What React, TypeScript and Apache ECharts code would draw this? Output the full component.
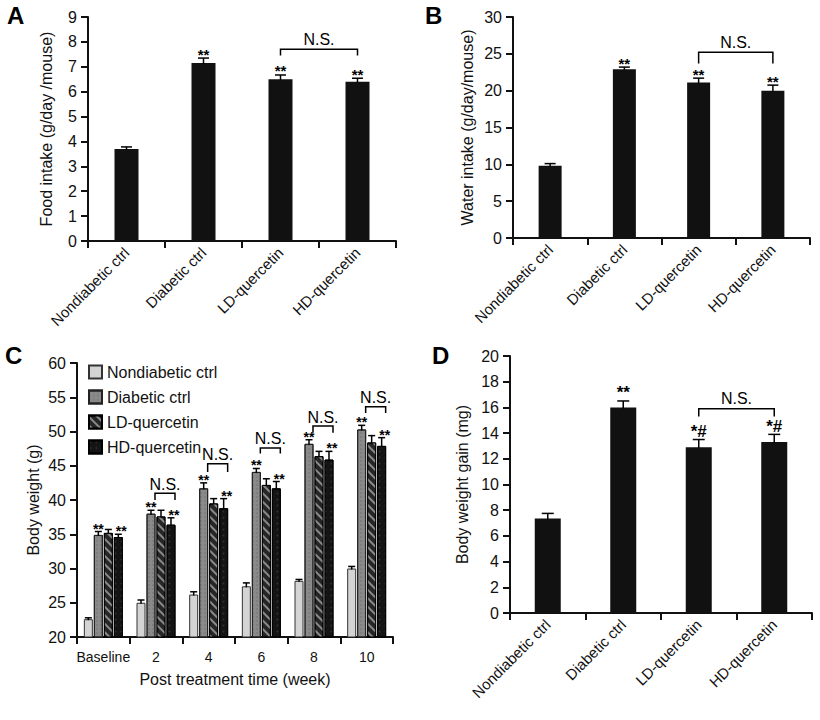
import React, { useEffect, useRef } from 'react';
import * as echarts from 'echarts';

const groups = ['Nondiabetic ctrl', 'Diabetic ctrl', 'LD-quercetin', 'HD-quercetin'];

const foodIntake = [3.7, 7.15, 6.5, 6.4];
const foodErr = [0.08, 0.2, 0.17, 0.14];
const foodMarks = ['', '**', '**', '**'];

const waterIntake = [9.8, 22.9, 21.1, 20.0];
const waterErr = [0.3, 0.3, 0.6, 0.75];
const waterMarks = ['', '**', '**', '**'];

const weekLabels = ['Baseline', '2', '4', '6', '8', '10'];
const bwNondiabetic = [22.6, 25.0, 26.2, 27.4, 28.2, 30.0];
const bwNondiabeticErr = [0.2, 0.4, 0.4, 0.5, 0.2, 0.3];
const bwDiabetic = [34.9, 38.0, 41.7, 44.1, 48.2, 50.3];
const bwDiabeticErr = [0.5, 0.5, 0.8, 0.5, 0.6, 0.6];
const bwLD = [35.2, 37.6, 39.5, 42.2, 46.4, 48.4];
const bwLDErr = [0.5, 0.9, 0.7, 0.9, 0.7, 1.0];
const bwHD = [34.6, 36.4, 38.8, 41.7, 45.9, 47.9];
const bwHDErr = [0.4, 1.0, 1.4, 1.0, 1.2, 1.2];
const bwDiabeticMarks = ['**', '**', '**', '**', '**', '**'];
const bwHDMarks = ['**', '**', '**', '**', '**', '**'];
// N.S. brackets in panel C (week index, bracket top, bracket tick bottom)
const bwBracketWeeks = [1, 2, 3, 4, 5];
const bwBracketTop = [41.0, 45.3, 47.6, 50.8, 53.6];
const bwBracketBottom = [40.0, 44.1, 46.8, 49.8, 52.7];

const gain = [7.35, 16.0, 12.9, 13.3];
const gainErr = [0.4, 0.5, 0.6, 0.6];
const gainMarks = ['', '**', '*#', '*#'];

// N.S. brackets for A, B, D: [top, bottom]
const foodBracket = [7.7, 7.45];
const waterBracket = [25.2, 23.7];
const gainBracket = [15.9, 15.3];

const FONT = '"Liberation Sans", Arial, Helvetica, sans-serif';
const INK = '#111';

const C_BW = 9;
const C_GAP = 0.11;
const cOffset = (k: number) => (k - 1.5) * C_BW * (1 + C_GAP);

type ErrItem = { cat: number; value: number; err: number; offset: number };
type MarkItem = { cat: number; y: number; offset: number; text: string; dy: number; size: number };
type BrItem = { c1: number; c2: number; o1: number; o2: number; top: number; bottom: number };

function errorSeries(ax: number, items: ErrItem[], cap: number) {
  return {
    type: 'custom',
    xAxisIndex: ax,
    yAxisIndex: ax,
    silent: true,
    z: 5,
    clip: false,
    data: items.map((it) => [it.cat, it.value + it.err]),
    renderItem: (params: any, api: any) => {
      const it = items[params.dataIndex];
      const p0 = api.coord([it.cat, it.value]);
      const p1 = api.coord([it.cat, it.value + it.err]);
      const x = p0[0] + it.offset;
      const st = { stroke: '#000', lineWidth: 1.5 };
      return {
        type: 'group',
        children: [
          { type: 'line', shape: { x1: x, y1: p0[1] + 1, x2: x, y2: p1[1] }, style: st },
          { type: 'line', shape: { x1: x - cap / 2, y1: p1[1], x2: x + cap / 2, y2: p1[1] }, style: st },
        ],
      };
    },
  };
}

function markSeries(ax: number, items: MarkItem[]) {
  return {
    type: 'custom',
    xAxisIndex: ax,
    yAxisIndex: ax,
    silent: true,
    z: 6,
    clip: false,
    data: items.map((it) => [it.cat, it.y]),
    renderItem: (params: any, api: any) => {
      const it = items[params.dataIndex];
      const p = api.coord([it.cat, it.y]);
      return {
        type: 'text',
        x: p[0] + it.offset,
        y: p[1] - it.dy,
        style: {
          text: it.text,
          align: 'center',
          verticalAlign: 'middle',
          fontSize: it.size,
          fontFamily: FONT,
          fontWeight: 'bold',
          fill: '#000',
        },
      };
    },
  };
}

function bracketSeries(ax: number, items: BrItem[], gap: number) {
  return {
    type: 'custom',
    xAxisIndex: ax,
    yAxisIndex: ax,
    silent: true,
    z: 6,
    clip: false,
    data: items.map((it) => [it.c1, it.top]),
    renderItem: (params: any, api: any) => {
      const it = items[params.dataIndex];
      const a = api.coord([it.c1, it.top]);
      const b = api.coord([it.c2, it.top]);
      const c = api.coord([it.c1, it.bottom]);
      const x1 = a[0] + it.o1;
      const x2 = b[0] + it.o2;
      return {
        type: 'group',
        children: [
          {
            type: 'polyline',
            shape: { points: [[x1, c[1]], [x1, a[1]], [x2, a[1]], [x2, c[1]]] },
            style: { stroke: '#000', lineWidth: 1.5, fill: 'none' },
          },
          {
            type: 'text',
            x: (x1 + x2) / 2,
            y: a[1] - gap,
            style: { text: 'N.S.', align: 'center', verticalAlign: 'middle', fontSize: 16, fontFamily: FONT, fill: '#000' },
          },
        ],
      };
    },
  };
}

const axisLine = { show: true, onZero: false, lineStyle: { color: INK, width: 2 } };
const axisTick = { show: true, length: 7, lineStyle: { color: INK, width: 2 } };

function yAxis(grid: number, min: number, max: number, interval: number, name: string, nameGap: number) {
  return {
    type: 'value',
    gridIndex: grid,
    min,
    max,
    interval,
    name,
    nameLocation: 'middle',
    nameGap,
    nameTextStyle: { fontSize: 16, color: INK, fontFamily: FONT },
    axisLine,
    axisTick,
    axisLabel: { fontSize: 16, color: INK, margin: 11, fontFamily: FONT },
    splitLine: { show: false },
  };
}

function xCatAxis(grid: number) {
  return {
    type: 'category',
    gridIndex: grid,
    data: groups,
    axisLine,
    axisTick: { ...axisTick, alignWithLabel: false },
    axisLabel: { rotate: 45, fontSize: 15, color: INK, margin: 9, interval: 0, fontFamily: FONT },
  };
}

function simpleMarks(vals: number[], errs: number[], marks: string[], dy: number, size: number): MarkItem[] {
  const out: MarkItem[] = [];
  marks.forEach((m, i) => {
    if (m) out.push({ cat: i, y: vals[i] + errs[i], offset: 0, text: m, dy, size });
  });
  return out;
}

export default function App() {
  const ref = useRef<HTMLDivElement>(null);
  useEffect(() => {
    document.body.style.margin = '0';
    if (!ref.current) return;
    const chart = echarts.init(ref.current, undefined, { renderer: 'svg' });

    const cSeriesDefs = [
      { name: 'Nondiabetic ctrl', vals: bwNondiabetic, errs: bwNondiabeticErr, color: '#d4d4d4', border: '#333', decal: undefined as any },
      { name: 'Diabetic ctrl', vals: bwDiabetic, errs: bwDiabeticErr, color: '#8a8a8a', border: '#222', decal: { symbol: 'circle', symbolSize: 0.6, dashArrayX: [2, 2], dashArrayY: [2, 2], color: 'rgba(0,0,0,0.25)' } },
      { name: 'LD-quercetin', vals: bwLD, errs: bwLDErr, color: '#262626', border: '#000', decal: { symbol: 'rect', symbolSize: 1, dashArrayX: [1, 0], dashArrayY: [2, 4], rotation: Math.PI / 4, color: '#8a8a8a' } },
      { name: 'HD-quercetin', vals: bwHD, errs: bwHDErr, color: '#141414', border: '#000', decal: { symbol: 'circle', symbolSize: 0.6, dashArrayX: [3, 3], dashArrayY: [3, 3], color: 'rgba(255,255,255,0.12)' } },
    ];

    const cErrItems: ErrItem[] = [];
    cSeriesDefs.forEach((s, k) => {
      s.vals.forEach((v, i) => cErrItems.push({ cat: i, value: v, err: s.errs[i], offset: cOffset(k) }));
    });
    const cMarkItems: MarkItem[] = [];
    bwDiabeticMarks.forEach((m, i) => {
      if (m) cMarkItems.push({ cat: i, y: bwDiabetic[i] + bwDiabeticErr[i], offset: cOffset(1), text: m, dy: 3, size: 14 });
    });
    bwHDMarks.forEach((m, i) => {
      if (m) cMarkItems.push({ cat: i, y: bwHD[i] + bwHDErr[i], offset: cOffset(3) + 3, text: m, dy: 3, size: 14 });
    });
    const cBrItems: BrItem[] = bwBracketWeeks.map((w, j) => ({
      c1: w, c2: w, o1: cOffset(2) - 6, o2: cOffset(3) + 4, top: bwBracketTop[j], bottom: bwBracketBottom[j],
    }));

    const option: any = {
      animation: false,
      backgroundColor: '#fff',
      textStyle: { fontFamily: FONT },
      grid: [
        { left: 88, top: 17, width: 308, height: 224, outerBoundsMode: 'none', containLabel: false },
        { left: 513, top: 17, width: 297, height: 221, outerBoundsMode: 'none', containLabel: false },
        { left: 77, top: 363, width: 316, height: 274, outerBoundsMode: 'none', containLabel: false },
        { left: 510, top: 356, width: 302, height: 257, outerBoundsMode: 'none', containLabel: false },
      ],
      xAxis: [
        xCatAxis(0),
        xCatAxis(1),
        {
          type: 'category',
          gridIndex: 2,
          data: weekLabels,
          name: 'Post treatment time (week)',
          nameLocation: 'middle',
          nameGap: 34,
          nameTextStyle: { fontSize: 16, color: INK, fontFamily: FONT },
          axisLine,
          axisTick: { ...axisTick, alignWithLabel: false },
          axisLabel: { fontSize: 14, color: INK, margin: 13, interval: 0, fontFamily: FONT },
        },
        xCatAxis(3),
      ],
      yAxis: [
        yAxis(0, 0, 9, 1, 'Food intake (g/day /mouse)', 34),
        yAxis(1, 0, 30, 5, 'Water intake (g/day/mouse)', 38),
        yAxis(2, 20, 60, 5, 'Body weight (g)', 36),
        yAxis(3, 0, 20, 2, 'Body weight gain (mg)', 40),
      ],
      legend: {
        data: cSeriesDefs.map((s) => s.name),
        orient: 'vertical',
        left: 88,
        top: 364,
        padding: 0,
        itemWidth: 13,
        itemHeight: 13,
        itemGap: 9,
        icon: 'rect',
        selectedMode: false,
        textStyle: { fontSize: 16, color: INK, fontFamily: FONT },
      },
      graphic: [
        { type: 'text', left: 7, top: 3, style: { text: 'A', fontSize: 24, fontWeight: 'bold', fontFamily: FONT, fill: '#000' } },
        { type: 'text', left: 425, top: 3, style: { text: 'B', fontSize: 24, fontWeight: 'bold', fontFamily: FONT, fill: '#000' } },
        { type: 'text', left: 5, top: 343, style: { text: 'C', fontSize: 24, fontWeight: 'bold', fontFamily: FONT, fill: '#000' } },
        { type: 'text', left: 432, top: 343, style: { text: 'D', fontSize: 24, fontWeight: 'bold', fontFamily: FONT, fill: '#000' } },
      ],
      series: [
        { type: 'bar', name: 'food', xAxisIndex: 0, yAxisIndex: 0, data: foodIntake, barWidth: 24, itemStyle: { color: '#111' } },
        errorSeries(0, foodIntake.map((v, i) => ({ cat: i, value: v, err: foodErr[i], offset: 0 })), 11),
        markSeries(0, simpleMarks(foodIntake, foodErr, foodMarks, 4, 15)),
        bracketSeries(0, [{ c1: 2, c2: 3, o1: 0, o2: 0, top: foodBracket[0], bottom: foodBracket[1] }], 10),

        { type: 'bar', name: 'water', xAxisIndex: 1, yAxisIndex: 1, data: waterIntake, barWidth: 23, itemStyle: { color: '#111' } },
        errorSeries(1, waterIntake.map((v, i) => ({ cat: i, value: v, err: waterErr[i], offset: 0 })), 11),
        markSeries(1, simpleMarks(waterIntake, waterErr, waterMarks, 4, 15)),
        bracketSeries(1, [{ c1: 2, c2: 3, o1: 0, o2: 0, top: waterBracket[0], bottom: waterBracket[1] }], 10),

        ...cSeriesDefs.map((s) => ({
          type: 'bar',
          name: s.name,
          xAxisIndex: 2,
          yAxisIndex: 2,
          data: s.vals,
          barWidth: C_BW,
          barGap: (C_GAP * 100) + '%',
          itemStyle: { color: s.color, borderColor: s.border, borderWidth: 1, decal: s.decal },
        })),
        errorSeries(2, cErrItems, 7),
        markSeries(2, cMarkItems),
        bracketSeries(2, cBrItems, 9),

        { type: 'bar', name: 'gain', xAxisIndex: 3, yAxisIndex: 3, data: gain, barWidth: 26, itemStyle: { color: '#111' } },
        errorSeries(3, gain.map((v, i) => ({ cat: i, value: v, err: gainErr[i], offset: 0 })), 12),
        markSeries(3, simpleMarks(gain, gainErr, gainMarks, 8, 17)),
        bracketSeries(3, [{ c1: 2, c2: 3, o1: 0, o2: 0, top: gainBracket[0], bottom: gainBracket[1] }], 10),
      ],
    };
    chart.setOption(option);
    return () => chart.dispose();
  }, []);
  return <div ref={ref} style={{ width: 820, height: 720 }} />;
}
